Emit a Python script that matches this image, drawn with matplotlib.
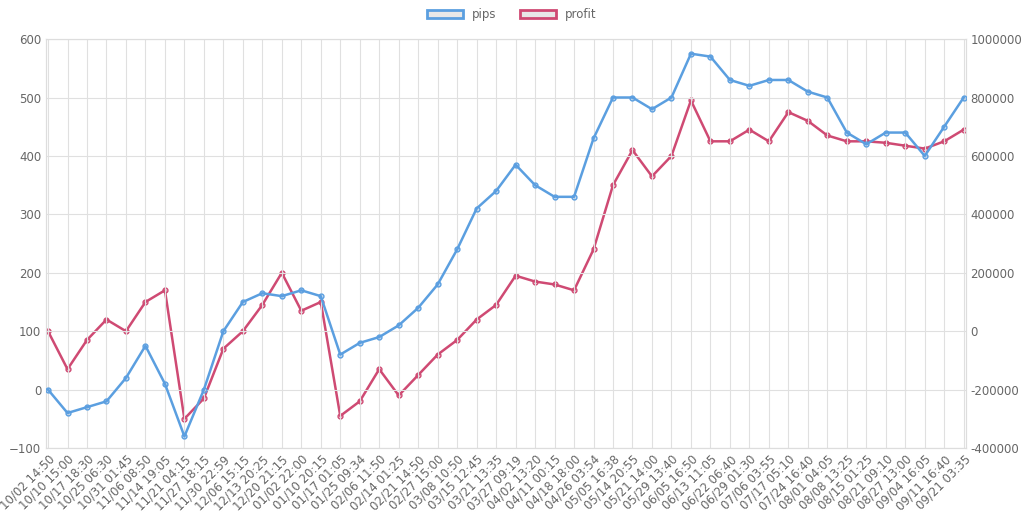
import matplotlib
matplotlib.use("Agg")
import matplotlib.pyplot as plt
from matplotlib.patches import Patch
from matplotlib.ticker import FuncFormatter

labels = ["10/02 14:50","10/10 15:00","10/17 18:30","10/25 06:30","10/31 01:45","11/06 08:50",
"11/14 19:05","11/21 04:15","11/27 18:15","11/30 22:59","12/06 15:15","12/13 20:25","12/20 21:15",
"01/02 22:00","01/10 20:15","01/17 01:05","01/25 09:34","02/06 11:50","02/14 01:25","02/21 14:50",
"02/27 15:00","03/08 10:50","03/15 12:45","03/21 13:35","03/27 09:19","04/02 13:20","04/11 00:15",
"04/18 18:00","04/26 03:54","05/05 16:38","05/14 20:55","05/21 14:00","05/29 13:40","06/05 16:50",
"06/13 11:05","06/22 06:40","06/29 01:30","07/06 03:55","07/17 05:10","07/24 16:40","08/01 04:05",
"08/08 13:25","08/15 01:25","08/21 09:10","08/27 13:00","09/04 16:05","09/11 16:40","09/21 03:35"]
pips = [0,-40,-30,-20,20,75,10,-80,0,100,150,165,160,170,160,60,80,90,110,140,180,240,310,340,
        385,350,330,330,430,500,500,480,500,575,570,530,520,530,530,510,500,440,420,440,440,400,450,500]
profit = [0,-130000,-30000,40000,0,100000,140000,-300000,-230000,-60000,0,90000,200000,70000,100000,
          -290000,-240000,-130000,-220000,-150000,-80000,-30000,40000,90000,190000,170000,160000,140000,
          280000,500000,620000,530000,600000,790000,650000,650000,690000,650000,750000,720000,670000,
          650000,650000,645000,635000,625000,650000,690000]

blue = "#5b9fe0"; red = "#cf4a73"
fig = plt.figure(figsize=(10.24, 5.21), dpi=100)
ax = fig.add_axes([0.045, 0.14, 0.898, 0.785])
ax2 = ax.twinx()
x = list(range(len(labels)))
ax.plot(x, pips, color=blue, lw=1.8, marker="o", ms=3.5, mfc=(0.36,0.62,0.88,0.3), mec=blue, zorder=3)
ax2.plot(x, profit, color=red, lw=1.8, marker="o", ms=3.5, mfc=(0.81,0.29,0.45,0.3), mec=red)
ax.set_zorder(ax2.get_zorder()+1); ax.patch.set_visible(False)
ax.set_ylim(-100, 600); ax2.set_ylim(-400000, 1000000)
ax.set_xlim(-0.1, len(labels)-0.9)
ax.set_xticks(x)
ax.set_xticklabels(labels, rotation=45, ha="right", rotation_mode="anchor", fontsize=7.5, color="#666")
ax.set_yticks(range(-100, 601, 100)); ax2.set_yticks(range(-400000, 1000001, 200000))
ax2.yaxis.set_major_formatter(FuncFormatter(lambda v, p: f"{int(v)}"))
for a in (ax, ax2):
    a.tick_params(labelsize=8.5, colors="#666", length=0)
    for s in a.spines.values(): s.set_color("#ddd")
ax.grid(True, color="#e0e0e0", lw=0.8)
fig.legend(handles=[Patch(fc="#e8e8e8", ec=blue, lw=2, label="pips"),
                    Patch(fc="#e8e8e8", ec=red, lw=2, label="profit")],
           loc="upper center", ncol=2, frameon=False, fontsize=8.5, bbox_to_anchor=(0.5, 1.005),
           handlelength=3, labelcolor="#666")
fig.savefig("out.png", dpi=100)
